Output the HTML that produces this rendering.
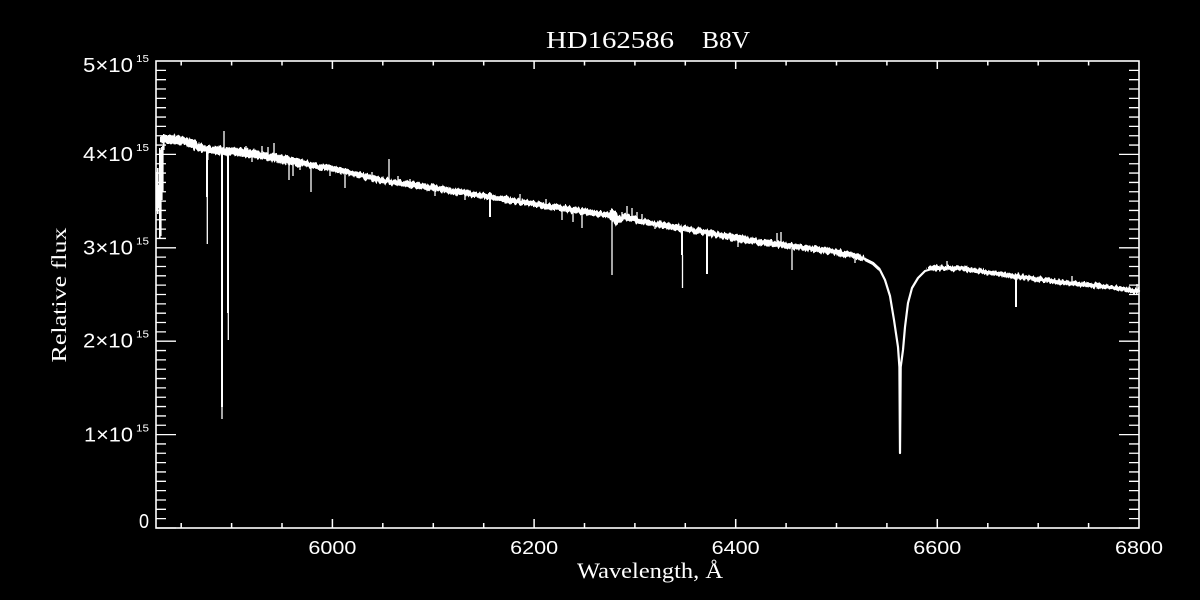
<!DOCTYPE html>
<html>
<head>
<meta charset="utf-8">
<style>
html,body{margin:0;padding:0;background:#000;}
svg{display:block;}
text{fill:#fff;}
</style>
</head>
<body>
<svg width="1200" height="600" viewBox="0 0 1200 600" xmlns="http://www.w3.org/2000/svg">
<defs>
<filter id="rough" filterUnits="userSpaceOnUse" x="140" y="100" width="1010" height="250">
<feTurbulence type="fractalNoise" baseFrequency="0.45 0.08" numOctaves="2" seed="7" result="n"/>
<feDisplacementMap in="SourceGraphic" in2="n" scale="6" xChannelSelector="R" yChannelSelector="G"/>
</filter>
</defs>
<rect x="0" y="0" width="1200" height="600" fill="#000"/>

<!-- Title -->
<text x="546" y="48" font-family="Liberation Serif, serif" font-size="24" textLength="128" lengthAdjust="spacingAndGlyphs">HD162586</text>
<text x="702" y="48" font-family="Liberation Serif, serif" font-size="24" textLength="48" lengthAdjust="spacingAndGlyphs">B8V</text>

<!-- Axis titles -->
<text x="577" y="578" font-family="Liberation Serif, serif" font-size="22" textLength="146" lengthAdjust="spacingAndGlyphs">Wavelength, Å</text>
<text transform="translate(66,295) rotate(-90)" text-anchor="middle" font-family="Liberation Serif, serif" font-size="21" textLength="135" lengthAdjust="spacingAndGlyphs">Relative flux</text>

<!-- X tick labels -->
<g font-family="Liberation Sans, sans-serif" font-size="18">
<text x="308.4" y="554" textLength="48" lengthAdjust="spacingAndGlyphs">6000</text>
<text x="510.1" y="554" textLength="48" lengthAdjust="spacingAndGlyphs">6200</text>
<text x="711.7" y="554" textLength="48" lengthAdjust="spacingAndGlyphs">6400</text>
<text x="913.3" y="554" textLength="48" lengthAdjust="spacingAndGlyphs">6600</text>
<text x="1115" y="554" textLength="48" lengthAdjust="spacingAndGlyphs">6800</text>
</g>

<!-- Y tick labels -->
<g font-family="Liberation Sans, sans-serif">
<text x="83" y="72" font-size="20" textLength="50" lengthAdjust="spacingAndGlyphs">5×10</text>
<text x="136" y="62" font-size="10" textLength="13" lengthAdjust="spacingAndGlyphs">15</text>
<text x="83" y="160.8" font-size="20" textLength="50" lengthAdjust="spacingAndGlyphs">4×10</text>
<text x="136" y="150.8" font-size="10" textLength="13" lengthAdjust="spacingAndGlyphs">15</text>
<text x="83" y="254.3" font-size="20" textLength="50" lengthAdjust="spacingAndGlyphs">3×10</text>
<text x="136" y="244.3" font-size="10" textLength="13" lengthAdjust="spacingAndGlyphs">15</text>
<text x="83" y="347.7" font-size="20" textLength="50" lengthAdjust="spacingAndGlyphs">2×10</text>
<text x="136" y="337.7" font-size="10" textLength="13" lengthAdjust="spacingAndGlyphs">15</text>
<text x="84" y="441.5" font-size="20" textLength="49" lengthAdjust="spacingAndGlyphs">1×10</text>
<text x="136" y="431.5" font-size="10" textLength="13" lengthAdjust="spacingAndGlyphs">15</text>
<text x="139" y="528" font-size="20" textLength="10" lengthAdjust="spacingAndGlyphs">0</text>
</g>

<!-- Frame -->
<rect x="156" y="61" width="983" height="467" fill="none" stroke="#fff" stroke-width="1.6"/>

<!-- Y ticks left/right -->
<path stroke="#fff" stroke-width="1.3" fill="none" d="
M156 528H176 M156 518.66H166 M156 509.32H166 M156 499.98H166 M156 490.64H166 M156 481.3H166 M156 471.96H166 M156 462.62H166 M156 453.28H166 M156 443.94H166
M156 434.6H176 M156 425.26H166 M156 415.92H166 M156 406.58H166 M156 397.24H166 M156 387.9H166 M156 378.56H166 M156 369.22H166 M156 359.88H166 M156 350.54H166
M156 341.2H176 M156 331.86H166 M156 322.52H166 M156 313.18H166 M156 303.84H166 M156 294.5H166 M156 285.16H166 M156 275.82H166 M156 266.48H166 M156 257.14H166
M156 247.8H176 M156 238.46H166 M156 229.12H166 M156 219.78H166 M156 210.44H166 M156 201.1H166 M156 191.76H166 M156 182.42H166 M156 173.08H166 M156 163.74H166
M156 154.4H176 M156 145.06H166 M156 135.72H166 M156 126.38H166 M156 117.04H166 M156 107.7H166 M156 98.36H166 M156 89.02H166 M156 79.68H166 M156 70.34H166
M1139 528H1119 M1139 518.66H1129 M1139 509.32H1129 M1139 499.98H1129 M1139 490.64H1129 M1139 481.3H1129 M1139 471.96H1129 M1139 462.62H1129 M1139 453.28H1129 M1139 443.94H1129
M1139 434.6H1119 M1139 425.26H1129 M1139 415.92H1129 M1139 406.58H1129 M1139 397.24H1129 M1139 387.9H1129 M1139 378.56H1129 M1139 369.22H1129 M1139 359.88H1129 M1139 350.54H1129
M1139 341.2H1119 M1139 331.86H1129 M1139 322.52H1129 M1139 313.18H1129 M1139 303.84H1129 M1139 294.5H1129 M1139 285.16H1129 M1139 275.82H1129 M1139 266.48H1129 M1139 257.14H1129
M1139 247.8H1119 M1139 238.46H1129 M1139 229.12H1129 M1139 219.78H1129 M1139 210.44H1129 M1139 201.1H1129 M1139 191.76H1129 M1139 182.42H1129 M1139 173.08H1129 M1139 163.74H1129
M1139 154.4H1119 M1139 145.06H1129 M1139 135.72H1129 M1139 126.38H1129 M1139 117.04H1129 M1139 107.7H1129 M1139 98.36H1129 M1139 89.02H1129 M1139 79.68H1129 M1139 70.34H1129
"/>

<!-- X ticks bottom/top -->
<path stroke="#fff" stroke-width="1.5" fill="none" d="
M181.2 528V523 M231.6 528V523 M282 528V523 M332.4 528V519 M382.8 528V523 M433.3 528V523 M483.7 528V523 M534.1 528V519 M584.5 528V523 M634.9 528V523 M685.3 528V523 M735.7 528V519 M786.1 528V523 M836.5 528V523 M886.9 528V523 M937.3 528V519 M987.8 528V523 M1038.2 528V523 M1088.6 528V523
M181.2 61V65.5 M231.6 61V65.5 M282 61V65.5 M332.4 61V69 M382.8 61V65.5 M433.3 61V65.5 M483.7 61V65.5 M534.1 61V69 M584.5 61V65.5 M634.9 61V65.5 M685.3 61V65.5 M735.7 61V69 M786.1 61V65.5 M836.5 61V65.5 M886.9 61V65.5 M937.3 61V69 M987.8 61V65.5 M1038.2 61V65.5 M1088.6 61V65.5
"/>

<!-- Spectrum: thick noisy band -->
<g fill="none" stroke="#fff" stroke-linejoin="round" stroke-linecap="round" filter="url(#rough)">
<path stroke-width="8" d="M164 139 L170 139 L178 139.5 L186 141.5 L195 145 L200 147.5 L210 150 L225 151 L240 152 L255 154 L270 157 L285 160 L300 162.5"/>
<path stroke-width="6" d="M300 162.5 L320 167 L340 170 L360 175 L380 180 L400 183 L440 189 L480 195 L520 202 L560 208 L600 214 L611 216 L613 212 L616 222 L619 220 L625 216.5 L640 221 L680 228 L720 235 L760 242 L800 247 L830 251 L850 255 L862 258"/>
<path stroke-width="5" d="M930 268.5 L935 268 L960 268 L1000 274 L1020 277 L1060 282 L1100 286 L1137 291"/>
</g>
<g fill="none" stroke="#fff" stroke-linejoin="round" stroke-linecap="round">
<!-- thin full curve -->
<path stroke-width="2.2" d="M163 138 L170 139 L178 139 L186 141 L195 145 L200 148 L210 150 L225 151 L240 152 L255 154 L270 157 L285 160 L300 162 L320 167 L340 170 L360 175 L380 180 L400 183 L440 189 L480 195 L520 202 L560 208 L600 214 L640 221 L680 228 L720 235 L760 242 L800 247 L830 251 L850 255 L865 259 L873 263 L880 270 L885 280 L890 296 L894 320 L898 347 L899.4 367 L900 453 L900.7 367 L903 350 L905 327 L908 303 L912 288 L918 278 L925 271 L935 268 L960 268 L1000 274 L1020 277 L1060 282 L1100 286 L1139 291"/>
<path stroke-width="3" d="M866 260 L873 263.5 L879 269"/>
</g>

<!-- left edge noisy region -->
<g stroke="#fff" fill="none">
<path stroke-width="1.6" d="M156.8 172 V211 M157.8 168 V214 M158.8 185 V208 M159.8 148 V238 M160.8 150 V236 M161.8 147 V200 M162.8 146 V192 M163.8 134 V150"/>
</g>

<!-- absorption lines -->
<g stroke="#fff" fill="none">
<path stroke-width="2" d="M207 150 V197 M222 152 V407 M228 152 V313 M490 197 V217 M682 228 V255 M707 232 V274 M1016 276 V307 M207.5 150 V160"/>
<path stroke-width="1.3" d="M207.3 197 V244 M222 407 V419 M228.3 313 V340 M289 160 V180 M293 160 V176 M311 165 V192 M345 172 V188 M562 209 V220 M573 211 V222 M582 212 V228 M612 216 V275 M682.5 255 V288 M738 238 V247 M792 247 V270 M252 153 V162 M300 162 V170 M330 168 V176 M435 188 V196 M465 193 V200 M655 223 V229 M855 256 V263"/>
</g>

<!-- emission spikes -->
<g stroke="#fff" stroke-width="1.3" fill="none">
<path d="M224 150 V131 M274 155 V143 M262 152 V146 M268 154 V147 M389 180 V159 M398 182 V176 M622 218 V212 M627 216 V206 M632 218 V208 M637 219 V212 M642 220 V214 M777 244 V233 M781 244 V232 M246 152 V146 M372 178 V172 M410 184 V179 M520 200 V194 M546 205 V199 M947 266 V261 M1072 282 V276 M1137 290 V284"/>
</g>
</svg>
</body>
</html>
